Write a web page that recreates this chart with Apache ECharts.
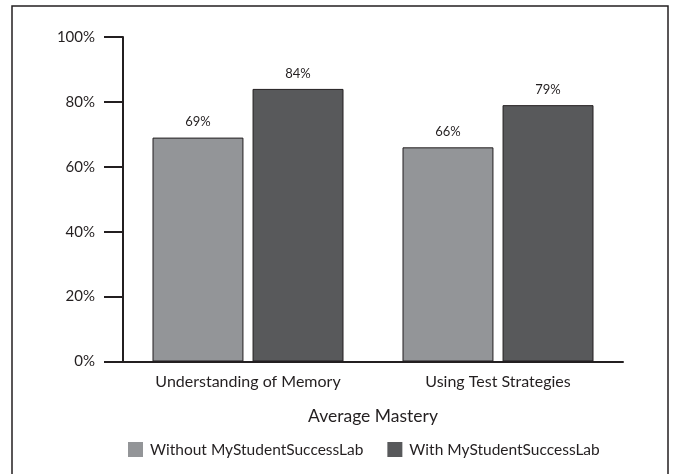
<!DOCTYPE html>
<html lang="en">
<head>
  <meta charset="UTF-8">
  <script src="https://cdn.jsdelivr.net/npm/echarts/dist/echarts.min.js"></script>
  <style>
    body { margin: 0; background: #ffffff; }
    #main { width: 675px; height: 474px; }
  </style>
</head>
<body>
  <div id="main"></div>
  <script>
    // chart data
    var categories = ['Understanding of Memory', 'Using Test Strategies'];
    var withoutLab = [69, 66];
    var withLab = [84, 79];
    var seriesNames = ['Without MyStudentSuccessLab', 'With MyStudentSuccessLab'];
    var yTicks = [0, 20, 40, 60, 80, 100];

    var font = 'Lato, "DejaVu Sans", sans-serif';
    var ink = '#231f20';

    var chart = echarts.init(document.getElementById('main'));

    function barSeries(name, data, color) {
      return {
        name: name,
        type: 'bar',
        data: data,
        barGap: '10%',
        barCategoryGap: '23.6%',
        itemStyle: { color: color, borderColor: ink, borderWidth: 1 },
        label: {
          show: true,
          position: 'top',
          distance: 9,
          formatter: '{c}%',
          color: ink,
          fontFamily: font,
          fontSize: 13
        }
      };
    }

    chart.setOption({
      animation: false,
      graphic: [{
        type: 'rect',
        shape: { x: 12, y: 6, width: 656, height: 480 },
        style: { fill: 'none', stroke: ink, lineWidth: 1.5 },
        silent: true
      }],
      grid: { left: 123, right: 52, top: 37, bottom: 112.5 },
      legend: {
        left: 128,
        top: 441.5,
        padding: 0,
        itemWidth: 15,
        itemHeight: 15,
        itemGap: 24,
        icon: 'rect',
        itemStyle: { borderWidth: 0 },
        textStyle: { color: ink, fontFamily: font, fontSize: 15.5, padding: [0, 0, 0, 2] },
        data: seriesNames
      },
      xAxis: {
        type: 'category',
        data: categories,
        name: 'Average Mastery',
        nameLocation: 'middle',
        nameGap: 46,
        nameTextStyle: { color: ink, fontFamily: font, fontSize: 17.5 },
        axisLine: { lineStyle: { color: ink, width: 2 } },
        axisTick: { inside: true, length: 8, lineStyle: { color: ink, width: 2 } },
        axisLabel: { color: ink, fontFamily: font, fontSize: 16, margin: 12 }
      },
      yAxis: {
        type: 'value',
        min: yTicks[0],
        max: yTicks[yTicks.length - 1],
        interval: yTicks[1] - yTicks[0],
        splitLine: { show: false },
        axisLine: { show: true, lineStyle: { color: ink, width: 2 } },
        axisTick: { show: true, length: 19, lineStyle: { color: ink, width: 2 } },
        axisLabel: { color: ink, fontFamily: font, fontSize: 15, margin: 28, formatter: '{value}%' }
      },
      series: [
        barSeries(seriesNames[0], withoutLab, '#939598'),
        barSeries(seriesNames[1], withLab, '#58595b')
      ]
    });
  </script>
</body>
</html>
